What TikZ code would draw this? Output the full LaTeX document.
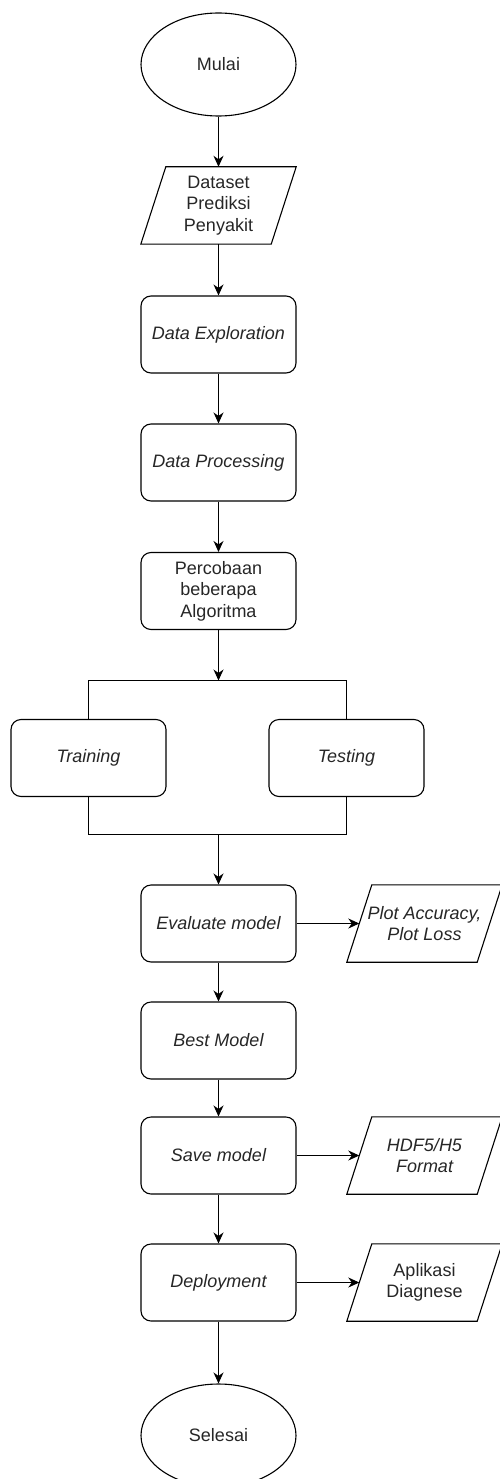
\documentclass[tikz,border=0pt]{standalone}
\usepackage{fontspec}
\setmainfont{Liberation Sans}
\usetikzlibrary{shapes.geometric,arrows.meta}
\definecolor{txt}{HTML}{262626}
\begin{document}
\begin{tikzpicture}[x=1pt,y=-1pt,
  base/.style={font=\fontsize{18}{21.6}\selectfont, text=txt, align=center, inner sep=0pt},
  term/.style={base, ellipse, draw, line width=1.1pt, minimum width=155pt, minimum height=103pt},
  proc/.style={base, rectangle, rounded corners=10pt, draw, line width=1.1pt, minimum width=155pt, minimum height=77pt},
  iobox/.style={base, rectangle, minimum width=155pt, minimum height=77pt},
  conn/.style={line width=1.1pt},
  arr/.style={conn, -{Stealth[length=11pt,width=10pt,inset=3.5pt]}},
]
\useasboundingbox (0,0) rectangle (500,1479);

\node[term] (mulai) at (218.5,64.5) {Mulai};
\node[iobox] (ds) at (218.5,205.5) {Dataset\\Prediksi\\Penyakit};
\node[proc] (de) at (218.5,334.5) {\itshape Data Exploration};
\node[proc] (dp) at (218.5,462.5) {\itshape Data Processing};
\node[proc] (pc) at (218.5,591) {Percobaan\\beberapa\\Algoritma};
\coordinate (split) at (218.5,680.5);
\node[proc] (tr) at (88.5,758) {\itshape Training};
\node[proc] (te) at (346.5,758) {\itshape Testing};
\coordinate (join) at (218.5,834.5);
\node[proc] (ev) at (218.5,923.5) {\itshape Evaluate model};
\node[iobox] (pa) at (424.5,923.5) {\itshape Plot Accuracy,\\\itshape Plot Loss};
\node[proc] (bm) at (218.5,1040.5) {\itshape Best Model};
\node[proc] (sv) at (218.5,1155.5) {\itshape Save model};
\node[iobox] (hd) at (424.5,1155.5) {\itshape HDF5/H5\\\itshape Format};
\node[proc] (dep) at (218.5,1282.5) {\itshape Deployment};
\node[iobox] (app) at (424.5,1282.5) {Aplikasi\\Diagnese};
\node[term] (sel) at (218.5,1435.5) {Selesai};

\foreach \n in {ds,pa,hd,app}{
  \draw[conn, line join=miter] ([xshift=25pt]\n.north west) -- (\n.north east)
    -- ([xshift=-25pt]\n.south east) -- (\n.south west) -- cycle;
}

\draw[arr] (mulai.south) -- (ds.north);
\draw[arr] (ds.south) -- (de.north);
\draw[arr] (de.south) -- (dp.north);
\draw[arr] (dp.south) -- (pc.north);
\draw[arr] (pc.south) -- (split);
\draw[conn] (tr.north) |- (split) -| (te.north);
\draw[conn] (tr.south) |- (join) -| (te.south);
\draw[arr] (join) -- (ev.north);
\draw[arr] (ev.east) -- ([xshift=12.5pt]pa.west);
\draw[arr] (ev.south) -- (bm.north);
\draw[arr] (bm.south) -- (sv.north);
\draw[arr] (sv.east) -- ([xshift=12.5pt]hd.west);
\draw[arr] (sv.south) -- (dep.north);
\draw[arr] (dep.east) -- ([xshift=12.5pt]app.west);
\draw[arr] (dep.south) -- (sel.north);
\end{tikzpicture}
\end{document}
